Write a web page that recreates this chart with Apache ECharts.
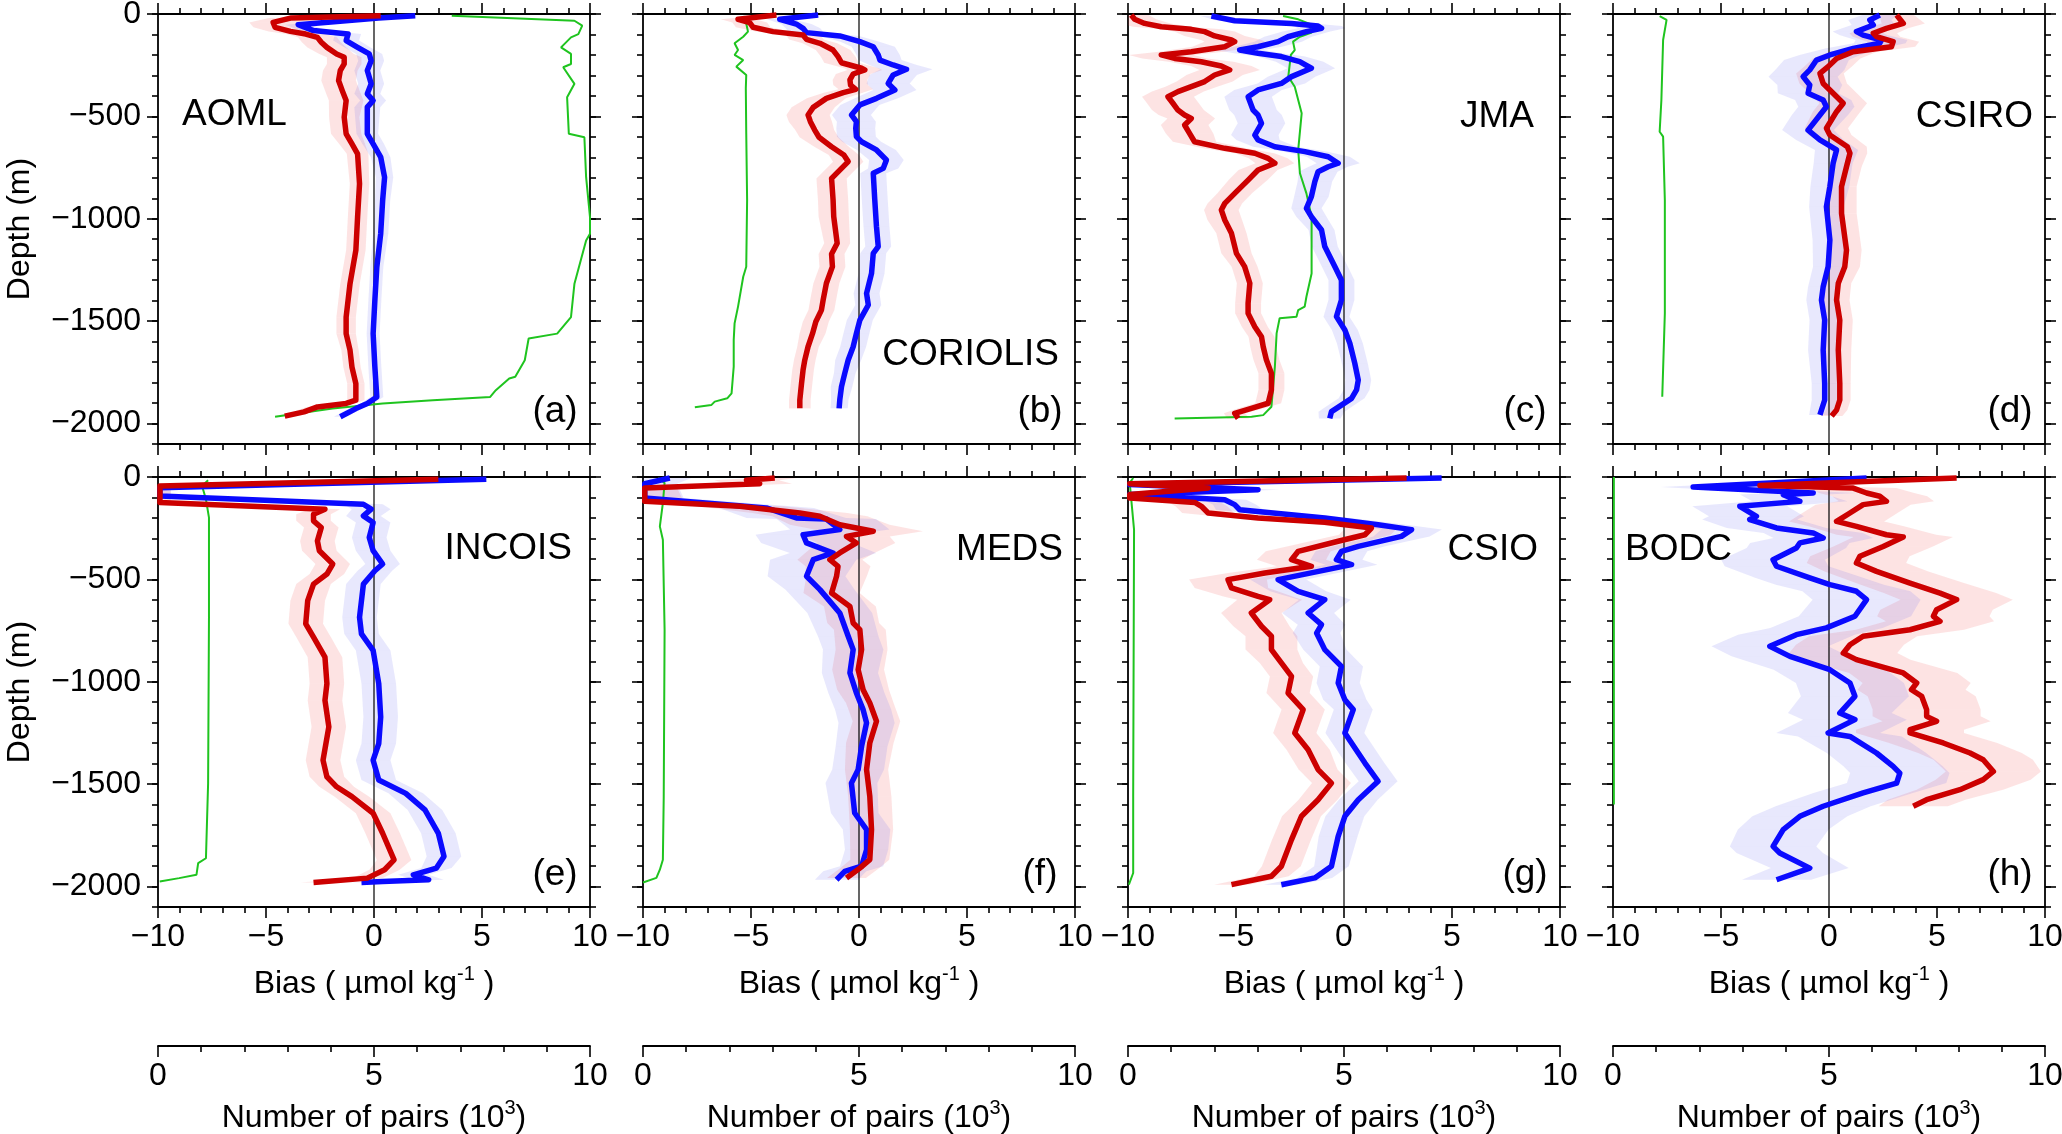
<!DOCTYPE html>
<html><head><meta charset="utf-8">
<script src="https://cdn.jsdelivr.net/npm/echarts/dist/echarts.min.js"></script>
<style>html,body{margin:0;padding:0;background:#fff}#c{width:2062px;height:1134px}</style>
</head><body><div id="c"></div>
<script>
// ---------------- DATA ----------------
const panelNames = ['AOML','CORIOLIS','JMA','CSIRO','INCOIS','MEDS','CSIO','BODC'];
const panelTags = ['(a)','(b)','(c)','(d)','(e)','(f)','(g)','(h)'];
const biasTicks = [-10,-5,0,5,10];
const pairTicks = [0,5,10];
const depthMajor = [0,-500,-1000,-1500,-2000];
const depthMinor = [0,-100,-200,-300,-400,-500,-600,-700,-800,-900,-1000,-1100,-1200,-1300,-1400,-1500,-1600,-1700,-1800,-1900,-2000,-2100];
const zeroLine = [[0,0],[0,-2100]];

// [bias, depth, error half-width]
const aomlRed = [[0.31,-8,0.3],[-3.87,-20,1.0],[-4.67,-41,1.1],[-4.58,-65,1.0],[-3.87,-85,1.0],[-3.16,-98,0.9],[-2.62,-114,0.9],[-2.44,-138,0.9],[-2.18,-163,0.9],[-1.73,-195,0.8],[-1.38,-211,0.8],[-1.38,-244,0.8],[-1.56,-276,0.8],[-1.64,-325,0.8],[-1.47,-374,0.8],[-1.29,-423,0.8],[-1.38,-504,0.7],[-1.29,-585,0.7],[-1.02,-634,0.6],[-0.76,-683,0.5],[-0.67,-829,0.45],[-0.76,-992,0.45],[-0.84,-1154,0.45],[-1.11,-1317,0.45],[-1.29,-1480,0.45],[-1.29,-1561,0.45],[-1.11,-1642,0.4],[-1.02,-1724,0.4],[-0.84,-1805,0.4],[-0.84,-1886,0.4],[-1.29,-1902,0.4],[-2.62,-1919,0.5],[-3.24,-1943,0.5],[-4.13,-1964,0.5]];
const aomlBlue = [[1.91,-8,0.3],[0.22,-20,0.5],[-3.51,-52,0.6],[-2.8,-81,0.6],[-1.2,-98,0.6],[-1.29,-130,0.6],[-0.76,-163,0.6],[-0.22,-195,0.6],[-0.13,-228,0.6],[-0.31,-276,0.6],[-0.13,-341,0.6],[-0.31,-390,0.6],[-0.04,-423,0.6],[-0.31,-455,0.6],[-0.31,-585,0.5],[-0.04,-634,0.5],[0.31,-699,0.45],[0.49,-797,0.4],[0.4,-911,0.35],[0.31,-1073,0.35],[0.13,-1236,0.3],[0.04,-1398,0.3],[-0.04,-1561,0.3],[0.04,-1724,0.3],[0.13,-1870,0.3],[-0.31,-1902,0.3],[-0.84,-1927,0.3],[-1.56,-1967,0.3]];
const aomlPairs = [[6.8,-8],[9.64,-33],[9.82,-57],[9.73,-98],[9.56,-114],[9.33,-163],[9.56,-195],[9.56,-244],[9.38,-260],[9.64,-341],[9.47,-407],[9.51,-585],[9.87,-602],[9.91,-797],[10,-992],[10,-1073],[9.91,-1106],[9.64,-1317],[9.56,-1480],[9.24,-1561],[8.58,-1585],[8.49,-1691],[8.27,-1772],[8.13,-1780],[7.82,-1837],[7.69,-1870],[6.36,-1886],[5.2,-1902],[4.04,-1927],[2.71,-1967]];

const coriolisRed = [[-3.82,-5,0.5],[-5.6,-26,0.8],[-5.06,-42,0.8],[-4.9,-65,0.8],[-3.98,-86,0.8],[-2.59,-103,0.8],[-2.43,-124,0.8],[-1.81,-143,0.8],[-1.2,-176,0.8],[-0.97,-208,0.8],[-0.81,-238,0.8],[0.12,-265,0.8],[0.27,-273,0.8],[-0.27,-293,0.8],[-0.42,-322,0.8],[-0.39,-347,0.8],[-0.15,-368,0.8],[-0.73,-384,0.9],[-1.51,-412,0.9],[-2.12,-456,1.0],[-2.36,-493,1.0],[-2.25,-526,1.0],[-2.05,-567,0.9],[-1.85,-602,0.9],[-1.27,-648,0.8],[-0.7,-689,0.7],[-0.5,-721,0.7],[-0.81,-754,0.7],[-1.27,-803,0.7],[-1.2,-908,0.7],[-1.17,-990,0.7],[-1.01,-1120,0.6],[-1.27,-1172,0.6],[-1.23,-1234,0.6],[-1.51,-1315,0.6],[-1.66,-1397,0.6],[-1.74,-1446,0.6],[-2.0,-1503,0.6],[-2.15,-1560,0.6],[-2.36,-1625,0.5],[-2.51,-1690,0.5],[-2.59,-1739,0.5],[-2.66,-1804,0.5],[-2.74,-1885,0.5],[-2.74,-1926,0.5]];
const coriolisBlue = [[-1.89,-5,0.5],[-3.67,-26,0.6],[-2.9,-49,0.7],[-2.59,-70,0.8],[-2.43,-91,0.8],[-0.89,-107,0.9],[0.04,-135,0.9],[0.66,-160,1.0],[0.89,-200,1.0],[0.97,-225,1.0],[1.58,-249,1.1],[2.2,-270,1.2],[1.58,-298,1.1],[1.35,-339,1.0],[1.66,-371,1.0],[0.81,-412,1.0],[0.04,-444,0.9],[-0.35,-493,0.9],[-0.12,-526,0.9],[-0.15,-558,0.9],[-0.12,-599,0.9],[0.12,-624,0.9],[0.81,-664,0.9],[1.27,-713,0.8],[1.12,-754,0.7],[0.66,-778,0.6],[0.73,-908,0.6],[0.81,-1039,0.6],[0.89,-1136,0.6],[0.66,-1169,0.6],[0.58,-1267,0.6],[0.35,-1364,0.6],[0.43,-1421,0.6],[0.04,-1495,0.6],[-0.12,-1560,0.6],[-0.27,-1625,0.6],[-0.5,-1690,0.6],[-0.66,-1755,0.5],[-0.81,-1820,0.5],[-0.89,-1885,0.4],[-0.92,-1926,0.4]];
const coriolisPairs = [[2.32,-10],[2.39,-46],[2.43,-86],[2.32,-111],[2.12,-143],[2.2,-176],[2.12,-200],[2.32,-225],[2.16,-257],[2.39,-298],[2.38,-363],[2.39,-583],[2.41,-908],[2.39,-1234],[2.32,-1283],[2.2,-1429],[2.12,-1511],[2.1,-1592],[2.1,-1722],[2.05,-1853],[1.95,-1877],[1.66,-1893],[1.58,-1910],[1.2,-1921]];

const jmaRed = [[-9.85,-5,0.8],[-9.69,-26,1.0],[-9.23,-46,1.2],[-8.46,-62,1.3],[-7.07,-75,1.4],[-6.45,-86,1.4],[-5.99,-107,1.4],[-5.21,-127,1.4],[-5.06,-135,1.4],[-5.52,-160,1.5],[-7.07,-184,1.5],[-8.46,-200,1.5],[-7.84,-217,1.5],[-6.61,-233,1.5],[-5.68,-254,1.4],[-5.29,-273,1.4],[-5.99,-298,1.3],[-6.45,-330,1.3],[-7.07,-355,1.2],[-7.69,-379,1.2],[-8.15,-404,1.2],[-7.92,-436,1.2],[-7.69,-469,1.2],[-7.38,-493,1.2],[-7.07,-510,1.1],[-7.38,-542,1.1],[-7.15,-583,1.1],[-6.92,-624,1.0],[-5.52,-656,1.0],[-4.13,-680,0.9],[-3.51,-705,0.9],[-3.2,-729,0.9],[-3.98,-762,0.9],[-4.44,-811,0.9],[-5.06,-876,0.8],[-5.52,-925,0.8],[-5.68,-957,0.8],[-5.52,-1006,0.8],[-5.21,-1071,0.7],[-4.98,-1169,0.7],[-4.6,-1234,0.6],[-4.36,-1315,0.6],[-4.44,-1413,0.6],[-4.44,-1462,0.6],[-4.13,-1527,0.6],[-3.82,-1576,0.6],[-3.74,-1625,0.6],[-3.59,-1690,0.6],[-3.36,-1755,0.6],[-3.36,-1836,0.6],[-3.51,-1901,0.6],[-4.29,-1926,0.6],[-5.06,-1950,0.5],[-4.9,-1975,0.5]];
const jmaBlue = [[-6.14,-10,0.5],[-5.06,-33,0.8],[-2.43,-46,1.0],[-1.2,-59,1.1],[-1.04,-70,1.1],[-1.74,-86,1.1],[-2.59,-111,1.1],[-3.05,-135,1.1],[-3.98,-160,1.1],[-4.83,-176,1.1],[-3.98,-192,1.1],[-2.9,-208,1.1],[-2.05,-233,1.1],[-1.51,-265,1.1],[-2.43,-306,1.1],[-2.9,-339,1.1],[-3.98,-371,1.1],[-4.44,-404,1.1],[-4.21,-469,1.1],[-3.98,-493,1.1],[-3.82,-534,1.1],[-4.13,-591,1.1],[-3.98,-615,1.0],[-3.2,-648,1.0],[-1.81,-672,1.0],[-0.73,-697,1.0],[-0.27,-729,1.0],[-0.73,-746,0.9],[-1.2,-770,0.9],[-1.35,-819,0.8],[-1.51,-892,0.8],[-1.74,-949,0.7],[-1.51,-990,0.7],[-1.04,-1055,0.6],[-0.89,-1136,0.6],[-0.42,-1234,0.6],[-0.12,-1299,0.6],[-0.12,-1397,0.6],[-0.35,-1478,0.6],[0.04,-1543,0.6],[0.27,-1608,0.6],[0.5,-1706,0.6],[0.66,-1788,0.6],[0.58,-1836,0.6],[0.35,-1877,0.6],[-0.12,-1910,0.6],[-0.58,-1942,0.6],[-0.66,-1975,0.5]];
const jmaPairs = [[3.59,-10],[3.94,-26],[4.21,-49],[4.25,-91],[3.98,-111],[3.82,-135],[3.86,-176],[3.77,-200],[3.71,-306],[3.86,-355],[4.02,-485],[3.94,-664],[3.98,-778],[4.13,-876],[4.25,-990],[4.25,-1267],[4.13,-1381],[4.09,-1429],[3.94,-1446],[3.9,-1478],[3.51,-1486],[3.44,-1560],[3.4,-1722],[3.32,-1918],[3.13,-1959],[2.86,-1967],[1.08,-1975]];

const csiroRed = [[3.13,-5,0.8],[3.44,-46,1.0],[2.66,-70,1.0],[2.05,-94,1.1],[2.2,-111,1.1],[2.97,-135,1.2],[2.89,-160,1.1],[1.12,-184,1.1],[0.35,-217,1.1],[-0.04,-257,1.1],[-0.42,-290,1.1],[-0.27,-339,1.1],[0.04,-371,1.1],[0.66,-436,1.1],[0.35,-477,1.1],[-0.12,-558,1.0],[0.04,-591,1.0],[0.85,-648,0.9],[0.97,-680,0.8],[0.81,-746,0.7],[0.58,-843,0.7],[0.58,-974,0.7],[0.81,-1153,0.7],[0.73,-1234,0.7],[0.43,-1315,0.6],[0.35,-1397,0.6],[0.5,-1495,0.6],[0.43,-1641,0.6],[0.5,-1804,0.5],[0.5,-1885,0.5],[0.35,-1934,0.5],[0.12,-1963,0.5]];
const csiroBlue = [[2.35,-5,0.8],[1.89,-29,1.0],[2.05,-54,1.0],[1.27,-86,1.1],[1.58,-103,1.1],[2.43,-127,1.2],[2.35,-143,1.2],[1.12,-168,1.3],[0.04,-200,1.4],[-0.58,-225,1.5],[-0.89,-273,1.6],[-1.2,-306,1.6],[-0.89,-347,1.5],[-0.97,-387,1.4],[-0.27,-420,1.3],[-0.12,-453,1.3],[-0.42,-493,1.3],[-0.97,-567,1.2],[-0.42,-615,1.1],[0.35,-664,1.0],[0.19,-729,0.9],[0.04,-843,0.9],[-0.12,-941,0.8],[0.04,-1104,0.8],[-0.04,-1234,0.7],[-0.27,-1332,0.7],[-0.35,-1397,0.7],[-0.2,-1495,0.7],[-0.27,-1641,0.7],[-0.2,-1804,0.6],[-0.2,-1885,0.6],[-0.42,-1958,0.5]];
const csiroPairs = [[1.08,-10],[1.24,-29],[1.16,-127],[1.12,-420],[1.08,-575],[1.16,-599],[1.2,-908],[1.2,-1462],[1.14,-1869]];

const incoisRed = [[2.98,-11,0.3],[-9.91,-44,0.5],[-9.91,-125,0.5],[-2.27,-157,0.7],[-2.8,-182,0.8],[-2.8,-214,0.8],[-2.44,-247,0.8],[-2.62,-312,0.8],[-2.53,-360,0.8],[-1.91,-425,0.8],[-2.18,-474,0.8],[-2.8,-523,0.8],[-3.07,-604,0.8],[-3.16,-717,0.8],[-2.8,-782,0.8],[-2.27,-880,0.8],[-2.18,-1009,0.8],[-2.27,-1091,0.8],[-2.09,-1220,0.8],[-2.36,-1383,0.8],[-2.18,-1464,0.8],[-1.73,-1513,0.8],[-1.02,-1561,0.8],[-0.04,-1642,0.8],[0.4,-1740,0.8],[0.93,-1870,0.8],[0.49,-1918,0.7],[-0.31,-1959,0.7],[-2.8,-1980,0.6]];
const incoisBlue = [[5.2,-11,0.3],[-9.91,-52,0.5],[-9.91,-93,0.5],[-0.49,-133,0.9],[-0.13,-157,0.9],[-0.49,-190,0.8],[-0.04,-222,0.8],[-0.22,-295,0.8],[-0.04,-360,0.8],[0.4,-425,0.8],[0.04,-458,0.8],[-0.49,-523,0.8],[-0.67,-685,0.8],[-0.58,-766,0.8],[-0.04,-847,0.8],[0.22,-1009,0.8],[0.31,-1172,0.8],[0.22,-1302,0.8],[-0.04,-1383,0.8],[0.22,-1480,0.8],[1.47,-1545,0.8],[2.36,-1626,0.8],[2.98,-1740,0.8],[3.24,-1853,0.8],[2.89,-1910,0.7],[1.82,-1943,0.7],[2.53,-1967,0.7],[0.4,-1975,0.6],[-0.58,-1980,0.6]];
const incoisPairs = [[1.16,-16],[1.02,-44],[1.11,-109],[1.18,-198],[1.18,-685],[1.16,-1496],[1.11,-1862],[0.93,-1886],[0.89,-1943],[0.49,-1959],[0.04,-1975]];

const medsRed = [[-3.9,-5,1.0],[-5.21,-16,1.5],[-4.6,-33,1.5],[-9.92,-54,1.5],[-9.92,-119,1.8],[-5.52,-143,2.0],[-2.74,-176,2.2],[-1.81,-192,2.2],[-0.89,-233,2.3],[0.66,-265,2.3],[-0.58,-290,2.0],[-0.12,-322,1.8],[-0.89,-371,1.6],[-1.35,-404,1.5],[-0.97,-436,1.5],[-1.04,-485,1.4],[-1.27,-567,1.3],[-0.42,-632,1.2],[-0.27,-713,1.2],[0.04,-746,1.2],[0.12,-843,1.2],[-0.04,-941,1.2],[0.19,-1039,1.2],[0.5,-1104,1.1],[0.81,-1193,1.1],[0.5,-1299,1.1],[0.35,-1429,1.0],[0.5,-1560,1.0],[0.58,-1722,1.0],[0.5,-1869,0.9],[0.04,-1910,0.9],[-0.58,-1958,0.9]];
const medsBlue = [[-8.76,-5,1.0],[-9.92,-33,1.5],[-9.92,-103,1.8],[-4.29,-151,2.2],[-2.9,-200,2.3],[-1.51,-205,2.3],[-0.89,-257,2.3],[-2.59,-282,2.2],[-2.43,-322,2.1],[-1.2,-371,2.0],[-2.12,-404,2.0],[-2.43,-485,1.8],[-1.81,-550,1.6],[-0.89,-664,1.5],[-0.5,-778,1.4],[-0.27,-843,1.4],[-0.42,-957,1.3],[-0.12,-1055,1.3],[0.19,-1136,1.3],[0.35,-1201,1.3],[0.12,-1315,1.2],[-0.04,-1429,1.2],[-0.35,-1495,1.2],[-0.2,-1641,1.1],[0.35,-1722,1.1],[0.35,-1820,1.0],[0.12,-1901,1.0],[-0.66,-1926,1.0],[-1.04,-1967,1.0]];
const medsPairs = [[0.35,-5],[0.5,-29],[0.46,-127],[0.39,-241],[0.46,-306],[0.5,-746],[0.48,-1560],[0.46,-1869],[0.39,-1918],[0.31,-1958],[0,-1980]];

const csioRed = [[2.9,-5,0.5],[-9.92,-33,0.8],[-6.29,-54,1.0],[-9.92,-86,1.0],[-9.92,-103,1.0],[-6.91,-124,1.2],[-6.6,-143,1.2],[-6.29,-176,1.2],[-3.98,-200,1.2],[-0.89,-221,1.2],[1.27,-249,1.2],[0.97,-282,1.2],[-0.27,-314,1.3],[-2.12,-363,1.5],[-2.43,-404,1.6],[-1.51,-436,1.6],[-3.67,-469,1.7],[-5.37,-501,1.8],[-5.21,-542,1.7],[-3.98,-583,1.6],[-3.44,-599,1.5],[-4.29,-664,1.4],[-3.82,-729,1.3],[-3.36,-778,1.2],[-3.36,-843,1.2],[-2.9,-908,1.0],[-2.43,-974,1.0],[-2.59,-1055,1.0],[-1.89,-1136,1.0],[-2.28,-1250,1.0],[-1.66,-1332,1.0],[-1.2,-1429,0.9],[-0.58,-1495,0.9],[-1.2,-1576,0.9],[-1.97,-1657,0.9],[-2.43,-1771,0.9],[-2.9,-1901,0.9],[-3.36,-1950,0.8],[-5.21,-1991,0.8]];
const csioBlue = [[4.52,-5,0.6],[-9.92,-37,0.8],[-3.98,-62,1.0],[-9.92,-86,1.0],[-5.52,-111,1.0],[-5.06,-135,1.0],[-4.83,-160,1.1],[-0.89,-200,1.2],[1.58,-233,1.3],[3.13,-257,1.4],[2.66,-290,1.3],[0.66,-339,1.2],[-0.12,-363,1.2],[-0.35,-404,1.2],[0.35,-428,1.2],[-3.05,-501,1.3],[-2.12,-558,1.3],[-0.89,-599,1.2],[-1.66,-664,1.2],[-1.04,-721,1.1],[-1.27,-762,1.1],[-0.89,-843,1.0],[-0.12,-925,1.0],[-0.27,-1006,1.0],[0.04,-1088,1.0],[0.43,-1136,0.9],[0.04,-1250,0.9],[0.97,-1397,0.9],[1.58,-1486,0.9],[0.66,-1576,0.9],[0.04,-1657,0.9],[-0.27,-1755,0.9],[-0.58,-1901,0.8],[-1.35,-1958,0.8],[-2.9,-1991,0.8]];
const csioPairs = [[0.12,-5],[0.04,-29],[0.14,-257],[0.12,-1560],[0.12,-1934],[0.02,-1991]];

const bodcRed = [[5.91,-5,1.0],[-3.2,-42,1.5],[1.12,-54,2.0],[1.74,-78,2.2],[2.35,-94,2.2],[2.66,-119,2.2],[1.58,-135,2.2],[0.97,-176,2.2],[0.35,-217,2.2],[1.27,-241,2.2],[2.66,-282,2.3],[3.44,-293,2.3],[2.51,-339,2.3],[1.43,-387,2.3],[1.27,-420,2.3],[2.2,-461,2.4],[3.75,-518,2.5],[5.14,-567,2.6],[5.91,-599,2.6],[4.98,-648,2.6],[4.83,-680,2.6],[5.14,-705,2.5],[3.75,-746,2.5],[1.58,-778,2.5],[0.97,-819,2.5],[0.66,-860,2.5],[1.27,-892,2.5],[3.44,-957,2.5],[4.06,-1006,2.5],[3.82,-1039,2.5],[4.29,-1071,2.5],[4.52,-1136,2.5],[4.52,-1169,2.5],[4.98,-1193,2.5],[3.75,-1234,2.5],[3.75,-1250,2.5],[5.29,-1299,2.5],[6.53,-1348,2.4],[7.14,-1381,2.3],[7.61,-1438,2.2],[7.14,-1478,2.2],[6.06,-1527,2.0],[4.52,-1576,1.8],[3.9,-1608,1.6]];
const bodcBlue = [[1.74,-5,1.0],[-6.29,-49,1.5],[-0.73,-78,2.0],[-2.12,-86,2.0],[-1.35,-119,2.2],[-4.13,-143,2.2],[-3.36,-192,2.2],[-3.67,-208,2.2],[-2.43,-249,2.3],[-0.73,-273,2.3],[-0.27,-298,2.3],[-1.35,-322,2.3],[-1.51,-347,2.3],[-2.59,-404,2.4],[-2.43,-436,2.4],[-0.89,-493,2.5],[0.04,-526,2.5],[1.27,-558,2.5],[1.74,-599,2.5],[1.2,-680,2.6],[-0.12,-737,2.6],[-1.51,-770,2.7],[-2.74,-827,2.7],[-1.81,-876,2.7],[0.04,-941,2.6],[0.97,-1006,2.5],[1.2,-1071,2.5],[0.5,-1153,2.4],[1.2,-1185,2.4],[-0.04,-1250,2.4],[0.97,-1267,2.4],[2.2,-1348,2.3],[2.97,-1413,2.3],[3.28,-1446,2.3],[3.13,-1495,2.3],[1.58,-1543,2.3],[-0.27,-1608,2.2],[-1.35,-1657,2.2],[-2.12,-1722,2.1],[-2.59,-1804,2.0],[-2.28,-1836,2.0],[-0.89,-1910,1.8],[-2.43,-1967,1.6]];
const bodcPairs = [[0.02,0],[0.02,-1600]];

const redSets = [aomlRed, coriolisRed, jmaRed, csiroRed, incoisRed, medsRed, csioRed, bodcRed];
const blueSets = [aomlBlue, coriolisBlue, jmaBlue, csiroBlue, incoisBlue, medsBlue, csioBlue, bodcBlue];
const pairSets = [aomlPairs, coriolisPairs, jmaPairs, csiroPairs, incoisPairs, medsPairs, csioPairs, bodcPairs];

// ---------------- LAYOUT / STYLE ----------------
const FONT = '"Liberation Sans", Arial, Helvetica, sans-serif';
const COL_LEFT = [158, 643, 1128, 1613];
const ROW_TOP = [14, 477];
const W = 432, H = 430;
const PAIRS_TOP = 1040;
const RED = '#cc0000', BLUE = '#0a0aff', GREEN = '#1fc41f';
const RED_BAND = 'rgba(240,80,80,0.16)', BLUE_BAND = 'rgba(90,90,240,0.14)';
const nameLayout = [
  {x: 182, y: 115, align: 'left'},
  {x: 1059, y: 355, align: 'right'},
  {x: 1534, y: 117, align: 'right'},
  {x: 2033, y: 117, align: 'right'},
  {x: 572, y: 549, align: 'right'},
  {x: 1063, y: 550, align: 'right'},
  {x: 1538, y: 550, align: 'right'},
  {x: 1625, y: 550, align: 'left'}
];

const fmt = v => (v < 0 ? '\u2212' + Math.abs(v) : String(v));
const lineSt = {color: '#000', width: 1.8};
const tickSt = {color: '#000', width: 1.6};
const labelSt = {fontSize: 32, fontFamily: FONT, color: '#000'};
const richName = {
  n: {fontSize: 32, fontFamily: FONT, color: '#000', lineHeight: 40},
  s: {fontSize: 20, fontFamily: FONT, color: '#000', lineHeight: 20, verticalAlign: 'top'}
};

const grids = [], xAxes = [], yAxes = [], series = [], graphics = [];

function band(arr, xi, yi, color) {
  return {
    type: 'custom', xAxisIndex: xi, yAxisIndex: yi, clip: true, silent: true, z: 1,
    data: arr.map(p => [p[0], p[1], p[2]]),
    encode: {x: 0, y: 1},
    renderItem: function (params, api) {
      const i = params.dataIndex;
      if (i >= arr.length - 1) return null;
      const a = arr[i], b = arr[i + 1];
      const pts = [
        api.coord([a[0] - a[2], a[1]]), api.coord([a[0] + a[2], a[1]]),
        api.coord([b[0] + b[2], b[1]]), api.coord([b[0] - b[2], b[1]])
      ];
      return {type: 'polygon', shape: {points: pts}, style: {fill: color, stroke: null}};
    }
  };
}

for (let i = 0; i < 8; i++) {
  const col = i % 4, row = Math.floor(i / 4);
  const left = COL_LEFT[col], top = ROW_TOP[row];
  grids.push({left: left, top: top, width: W, height: H, outerBoundsMode: 'none', containLabel: false});
  const lastRow = row === 1;
  const biasBase = {
    gridIndex: i, type: 'value', min: -10, max: 10, interval: 5,
    axisLine: {show: true, onZero: false, lineStyle: lineSt},
    axisTick: {show: true, length: 11, lineStyle: tickSt, customValues: biasTicks},
    minorTick: {show: true, splitNumber: 5, length: 6, lineStyle: tickSt},
    splitLine: {show: false}, minorSplitLine: {show: false}
  };
  xAxes.push(Object.assign({}, biasBase, {
    position: 'bottom',
    axisLabel: Object.assign({show: lastRow, margin: 14, formatter: fmt, customValues: biasTicks, showMinLabel: true, showMaxLabel: true}, labelSt),
    name: lastRow ? '{n|Bias ( \u00b5mol kg}{s|-1}{n| )}' : '',
    nameLocation: 'middle', nameGap: 57,
    nameTextStyle: {rich: richName}
  }));
  xAxes.push(Object.assign({}, biasBase, {position: 'top', axisLabel: {show: false}}));
  xAxes.push({gridIndex: i, type: 'value', min: 0, max: 10, show: false});

  const depthBase = {gridIndex: i, type: 'value', min: -2100, max: 0, splitLine: {show: false}};
  yAxes.push(Object.assign({}, depthBase, {
    position: 'left',
    axisLine: {show: true, onZero: false, lineStyle: lineSt},
    axisTick: {show: true, length: 11, lineStyle: tickSt, customValues: depthMajor},
    axisLabel: Object.assign({show: col === 0, margin: 17, formatter: fmt, customValues: depthMajor, showMinLabel: true, showMaxLabel: true}, labelSt)
  }));
  yAxes.push(Object.assign({}, depthBase, {
    position: 'left', axisLine: {show: false, onZero: false},
    axisTick: {show: true, length: 6, lineStyle: tickSt, customValues: depthMinor},
    axisLabel: {show: false}
  }));
  yAxes.push(Object.assign({}, depthBase, {
    position: 'right', axisLine: {show: true, onZero: false, lineStyle: lineSt},
    axisTick: {show: true, length: 11, lineStyle: tickSt, customValues: depthMajor},
    axisLabel: {show: false}
  }));
  yAxes.push(Object.assign({}, depthBase, {
    position: 'right', axisLine: {show: false, onZero: false},
    axisTick: {show: true, length: 6, lineStyle: tickSt, customValues: depthMinor},
    axisLabel: {show: false}
  }));

  const xb = 3 * i, xp = 3 * i + 2, yi = 4 * i;
  series.push(band(redSets[i], xb, yi, RED_BAND));
  series.push(band(blueSets[i], xb, yi, BLUE_BAND));
  series.push({type: 'line', xAxisIndex: xb, yAxisIndex: yi, data: zeroLine, symbol: 'none', silent: true, z: 2,
    lineStyle: {color: '#000', width: 1.2}});
  series.push({type: 'line', xAxisIndex: xp, yAxisIndex: yi, data: pairSets[i], symbol: 'none', z: 3,
    lineStyle: {color: GREEN, width: 2}});
  series.push({type: 'line', xAxisIndex: xb, yAxisIndex: yi, data: blueSets[i].map(p => [p[0], p[1]]), symbol: 'none', z: 4,
    lineStyle: {color: BLUE, width: 5.5, join: 'round'}});
  series.push({type: 'line', xAxisIndex: xb, yAxisIndex: yi, data: redSets[i].map(p => [p[0], p[1]]), symbol: 'none', z: 5,
    lineStyle: {color: RED, width: 5.5, join: 'round'}});

  const nl = nameLayout[i];
  graphics.push({type: 'text', x: nl.x, y: nl.y, z: 10,
    style: {text: panelNames[i], font: '37px ' + FONT, fill: '#000', align: nl.align, verticalAlign: 'middle'}});
  graphics.push({type: 'text', x: left + W - 35, y: top + 398, z: 10,
    style: {text: panelTags[i], font: '37px ' + FONT, fill: '#000', align: 'center', verticalAlign: 'middle'}});
}

// Number-of-pairs axes below the panels
for (let k = 0; k < 4; k++) {
  const gi = 8 + k;
  grids.push({left: COL_LEFT[k], top: PAIRS_TOP, width: W, height: 6, outerBoundsMode: 'none', containLabel: false});
  xAxes.push({
    gridIndex: gi, type: 'value', position: 'bottom', min: 0, max: 10, interval: 5,
    axisLine: {show: true, onZero: false, lineStyle: lineSt},
    axisTick: {show: true, length: 11, lineStyle: tickSt, customValues: pairTicks},
    minorTick: {show: true, splitNumber: 5, length: 6, lineStyle: tickSt},
    splitLine: {show: false}, minorSplitLine: {show: false},
    axisLabel: Object.assign({margin: 14, customValues: pairTicks, showMinLabel: true, showMaxLabel: true}, labelSt),
    name: '{n|Number of pairs (10}{s|3}{n|)}', nameLocation: 'middle', nameGap: 52,
    nameTextStyle: {rich: richName}
  });
  yAxes.push({gridIndex: gi, type: 'value', min: 0, max: 1, show: false});
  series.push({type: 'line', xAxisIndex: xAxes.length - 1, yAxisIndex: yAxes.length - 1, data: [], symbol: 'none'});
}

for (let r = 0; r < 2; r++) {
  graphics.push({type: 'text', x: 20, y: ROW_TOP[r] + H / 2, rotation: Math.PI / 2, z: 10,
    style: {text: 'Depth (m)', font: '32px ' + FONT, fill: '#000', align: 'center', verticalAlign: 'middle'}});
}

const chart = echarts.init(document.getElementById('c'), null, {renderer: 'canvas'});
chart.setOption({
  animation: false,
  backgroundColor: '#fff',
  grid: grids, xAxis: xAxes, yAxis: yAxes, series: series,
  graphic: {elements: graphics}
});
</script></body></html>
